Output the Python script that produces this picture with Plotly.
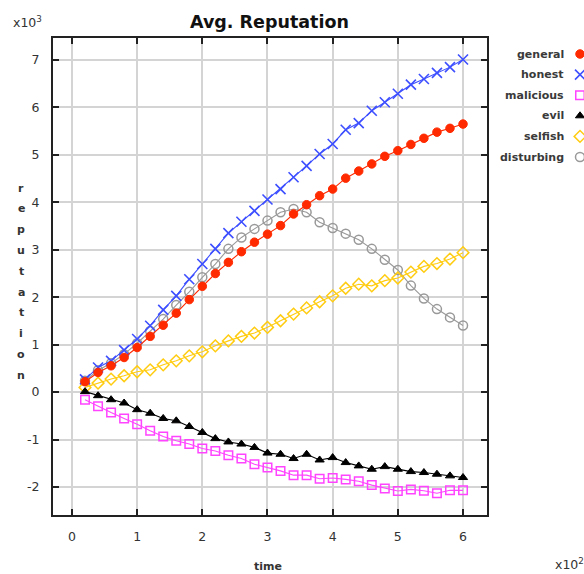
import plotly.graph_objects as go

# ---------------- data ----------------
time = list(range(20, 601, 20))  # 30 samples

general = [220, 415, 555, 730, 940, 1175, 1410, 1665, 1950, 2230, 2500, 2735, 2960, 3160, 3330,
           3510, 3755, 3950, 4140, 4280, 4510, 4660, 4810, 4970, 5090, 5220, 5350, 5480, 5560, 5650]
honest = [270, 520, 660, 885, 1120, 1400, 1735, 2030, 2380, 2700, 3020, 3350, 3590, 3820, 4060,
          4280, 4530, 4770, 5020, 5230, 5530, 5670, 5930, 6110, 6290, 6480, 6600, 6730, 6850, 7010]
malicious = [-160, -300, -430, -555, -675, -815, -935, -1025, -1095, -1190, -1240, -1330, -1400, -1520, -1590,
             -1660, -1750, -1750, -1825, -1810, -1840, -1880, -1960, -2030, -2085, -2050, -2080, -2130, -2070, -2070]
evil = [10, -75, -160, -230, -370, -445, -555, -605, -725, -850, -980, -1050, -1095, -1165, -1285,
        -1310, -1400, -1310, -1430, -1380, -1485, -1555, -1625, -1570, -1625, -1675, -1695, -1730, -1765, -1800]
selfish = [100, 190, 275, 345, 430, 470, 575, 660, 765, 850, 975, 1080, 1175, 1245, 1365,
           1505, 1645, 1775, 1905, 2030, 2190, 2275, 2240, 2350, 2405, 2530, 2650, 2710, 2805, 2940]
disturbing = [240, 460, 610, 800, 1030, 1290, 1540, 1835, 2115, 2420, 2700, 3020, 3260, 3440, 3615,
              3790, 3860, 3790, 3580, 3460, 3340, 3210, 3020, 2790, 2575, 2245, 1975, 1750, 1575, 1405]

x_tick_vals = [0, 100, 200, 300, 400, 500, 600]
x_tick_text = ["0", "1", "2", "3", "4", "5", "6"]
y_tick_vals = [-2000, -1000, 0, 1000, 2000, 3000, 4000, 5000, 6000, 7000]
y_tick_text = ["-2", "-1", "0", "1", "2", "3", "4", "5", "6", "7"]

series_names = ["general", "honest", "malicious", "evil", "selfish", "disturbing"]
series_values = [general, honest, malicious, evil, selfish, disturbing]

# ---------------- styles ----------------
styles = {
    "general":    dict(color="#ff2a00", symbol="circle",       size=8.5, lw=1),
    "honest":     dict(color="#3d4fff", symbol="x-thin-open",  size=10,  lw=1.6),
    "malicious":  dict(color="#ff44ff", symbol="square-open",  size=8.5, lw=1.5),
    "evil":       dict(color="#000000", symbol="triangle-up",  size=8,   lw=1),
    "selfish":    dict(color="#ffcc11", symbol="diamond-open", size=9,   lw=1.5),
    "disturbing": dict(color="#999999", symbol="circle-open",  size=9,   lw=1.5),
}

W, H = 584, 574
ML, MR, MT, MB = 53, 0, 38, 59
PW = W - ML - MR
PH = H - MT - MB
PLOT_RIGHT = 487


def px(xp):
    return (xp - ML) / PW


def py(yp):
    return (H - MB - yp) / PH


fig = go.Figure()

draw_order = ["disturbing", "selfish", "evil", "malicious", "honest", "general"]
for name in draw_order:
    vals = series_values[series_names.index(name)]
    st = styles[name]
    fig.add_trace(go.Scatter(
        x=time, y=vals, mode="lines+markers", name=name, showlegend=False,
        line=dict(color=st["color"], width=1.1),
        marker=dict(symbol=st["symbol"], size=st["size"], color=st["color"],
                    line=dict(color=st["color"], width=st["lw"])),
        xaxis="x", yaxis="y",
    ))

# custom legend (labels left, markers right)
leg_x = 580
leg_y0 = 54
leg_dy = 20.6
for i, name in enumerate(series_names):
    st = styles[name]
    fig.add_trace(go.Scatter(
        x=[leg_x], y=[leg_y0 + i * leg_dy], mode="markers", showlegend=False,
        marker=dict(symbol=st["symbol"], size=st["size"], color=st["color"],
                    line=dict(color=st["color"], width=st["lw"])),
        xaxis="x2", yaxis="y2", cliponaxis=False, hoverinfo="skip",
    ))

annotations = []
for i, name in enumerate(series_names):
    annotations.append(dict(
        x=px(566), y=py(leg_y0 + i * leg_dy), xref="paper", yref="paper",
        text="<b>" + name + "</b>", showarrow=False, xanchor="right", yanchor="middle",
        font=dict(family="DejaVu Sans", size=11, color="#3a3a3a"),
    ))

# title
annotations.append(dict(x=px(269), y=py(22), xref="paper", yref="paper",
                        text="<b>Avg. Reputation</b>", showarrow=False,
                        xanchor="center", yanchor="middle",
                        font=dict(family="DejaVu Sans", size=17.5, color="#111111")))
# scale labels
annotations.append(dict(x=px(11), y=py(22), xref="paper", yref="paper",
                        text="x10<sup>3</sup>", showarrow=False,
                        xanchor="left", yanchor="middle",
                        font=dict(family="DejaVu Sans", size=12.5, color="#333333")))
annotations.append(dict(x=px(553), y=py(564), xref="paper", yref="paper",
                        text="x10<sup>2</sup>", showarrow=False,
                        xanchor="left", yanchor="middle",
                        font=dict(family="DejaVu Sans", size=12.5, color="#333333")))
# x axis title
annotations.append(dict(x=px(268), y=py(566), xref="paper", yref="paper",
                        text="<b>time</b>", showarrow=False,
                        xanchor="center", yanchor="middle",
                        font=dict(family="DejaVu Sans", size=11, color="#333333")))
# y axis title, vertical stacked letters
ylabel = "reputation"
for i, ch in enumerate(ylabel):
    annotations.append(dict(x=px(21), y=py(188 + i * 20.8), xref="paper", yref="paper",
                            text="<b>" + ch + "</b>", showarrow=False,
                            xanchor="center", yanchor="middle",
                            font=dict(family="DejaVu Sans", size=11, color="#333333")))

axis_common = dict(
    showline=True, linecolor="#222222", linewidth=2, mirror="ticks",
    ticks="inside", ticklen=6, tickwidth=1.5, tickcolor="#222222",
    showgrid=True, gridcolor="#d4d4d4", gridwidth=1.5, zeroline=False,
    tickfont=dict(family="DejaVu Sans", size=12.5, color="#333333"),
)

fig.update_layout(
    width=W, height=H,
    margin=dict(l=ML, r=MR, t=MT, b=MB, pad=0),
    paper_bgcolor="white", plot_bgcolor="white",
    showlegend=False,
    xaxis=dict(domain=[0, px(PLOT_RIGHT)], range=[-29.1, 636.8],
               tickmode="array", tickvals=x_tick_vals, ticktext=x_tick_text,
               ticklabelstandoff=9, **axis_common),
    yaxis=dict(range=[-2590, 7464], tickmode="array", tickvals=y_tick_vals,
               ticktext=y_tick_text, ticklabelstandoff=9, **axis_common),
    xaxis2=dict(domain=[px(560), 1], range=[560, 584], visible=False, fixedrange=True),
    yaxis2=dict(domain=[0, 1], range=[H - MB, MT], visible=False, anchor="x2", fixedrange=True),
    annotations=annotations,
)

fig.write_html("out.html")
